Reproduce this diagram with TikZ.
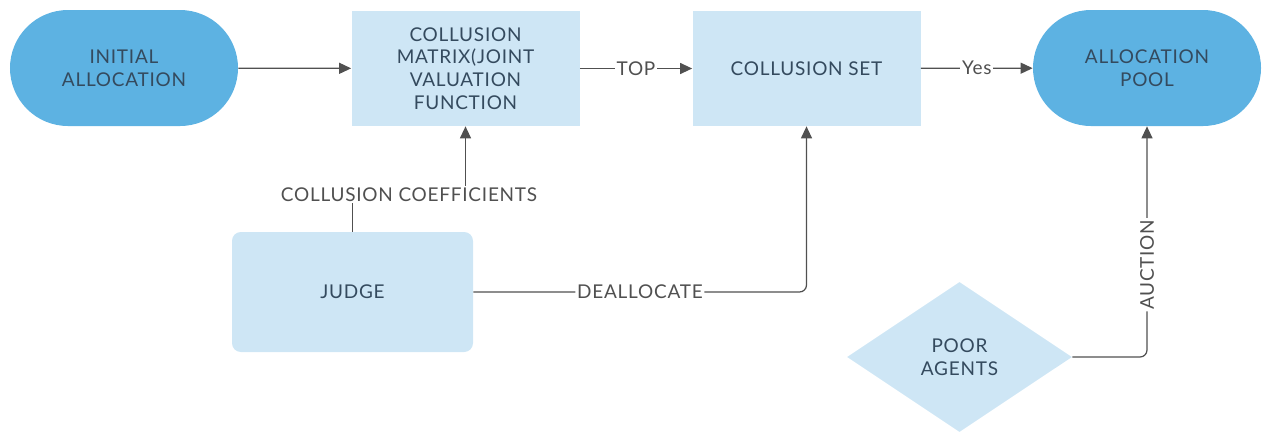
\documentclass[tikz,border=0pt]{standalone}
\usepackage{fontspec}
\setmainfont{Lato}[LetterSpace=4]
\usepackage{tikz}
\usetikzlibrary{positioning, shapes.geometric, arrows.meta}
\definecolor{poolblue}{RGB}{93,178,226}
\definecolor{boxblue}{RGB}{206,230,245}
\definecolor{nodetext}{RGB}{52,74,94}
\definecolor{linegray}{RGB}{80,80,80}

\begin{document}
\begin{tikzpicture}[
      font=\fontsize{10.8}{13}\selectfont,
      every node/.style={align=center, text=nodetext},
      endpoint/.style={fill=poolblue, rounded corners=1.16cm,
                       minimum width=4.56cm, minimum height=2.32cm},
      stage/.style={fill=boxblue, minimum width=4.56cm, minimum height=2.3cm},
      judgebox/.style={fill=boxblue, rounded corners=5pt,
                       minimum width=4.82cm, minimum height=2.4cm},
      agents/.style={diamond, aspect=1.5, fill=boxblue, inner sep=0pt,
                     minimum width=4.5cm, minimum height=3cm},
      flow/.style={draw=linegray, line width=0.7pt,
                   -{Triangle[length=0.24cm, width=0.22cm]}},
      lbl/.style={fill=white, text=linegray, inner sep=1pt},
    ]
    \useasboundingbox (0,0) rectangle (25.26,-8.68);

    % top row
    \node[endpoint] (init) at (2.48,-1.36) {INITIAL\\ALLOCATION};
    \node[stage] (colmat) at (9.31,-1.37)
      {COLLUSION\\MATRIX(JOINT\\VALUATION\\FUNCTION};
    \node[stage] (colset) at (16.13,-1.37) {COLLUSION SET};
    \node[endpoint] (pool) at (22.94,-1.36) {ALLOCATION\\POOL};

    % bottom row
    \node[judgebox] (judge) at (7.05,-5.84) {JUDGE};
    \node[agents] (poor) at (19.19,-7.14) {POOR\\AGENTS};

    % connectors
    \draw[flow] (init) -- (colmat);
    \draw[flow] (colmat) -- node[lbl] {TOP} (colset);
    \draw[flow] (colset) -- node[lbl] {Yes} (pool);
    \draw[flow] (judge.north) -- ++(0,0.74)
      -| node[lbl, pos=0.25] {COLLUSION COEFFICIENTS} (colmat.south);
    \draw[flow, rounded corners=4pt] (judge.east)
      -| node[lbl, pos=0.25] {DEALLOCATE} (colset.south);
    \draw[flow, rounded corners=4pt] (poor.east)
      -| node[lbl, pos=0.7, rotate=90] {AUCTION} (pool.south);
  \end{tikzpicture}
\end{document}
